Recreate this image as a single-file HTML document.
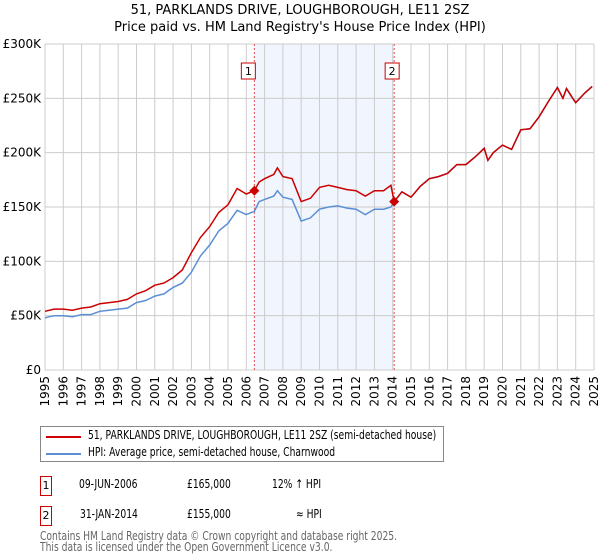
<!DOCTYPE html>
<html><head><meta charset="utf-8"><style>
body{margin:0;background:#fff;font-family:"DejaVu Sans","Liberation Sans",sans-serif;}
#wrap{position:relative;width:600px;height:560px;overflow:hidden}
.t{position:absolute;font-size:12px;color:#000;white-space:nowrap}
.c{transform:scaleX(0.765);transform-origin:0 0}
</style></head><body><div id="wrap">
<div class="t" style="left:0;width:600px;text-align:center;top:2px;font-size:13px;line-height:17px">51, PARKLANDS DRIVE, LOUGHBOROUGH, LE11 2SZ<br>Price paid vs. HM Land Registry's House Price Index (HPI)</div>
<svg id="chart" width="600" height="420" style="position:absolute;left:0;top:0"></svg>
<div style="position:absolute;left:40px;top:426px;width:402px;height:34px;border:1px solid #888">
 <div style="position:absolute;left:5px;top:9px;width:35px;height:2px;background:#cc0000"></div>
 <div class="t c" style="left:47px;top:1px">51, PARKLANDS DRIVE, LOUGHBOROUGH, LE11 2SZ (semi-detached house)</div>
 <div style="position:absolute;left:5px;top:26px;width:35px;height:2px;background:#5b8fd4"></div>
 <div class="t c" style="left:47px;top:18px">HPI: Average price, semi-detached house, Charnwood</div>
</div>
<div style="position:absolute;left:40px;top:476px;width:10px;height:18px;border:1px solid #cc0000;font-size:11px;text-align:center;line-height:18px">1</div>
<div class="t c" style="left:79px;top:477px">09-JUN-2006</div>
<div class="t c" style="left:187px;top:477px">£165,000</div>
<div class="t c" style="left:272px;top:477px">12% ↑ HPI</div>
<div style="position:absolute;left:40px;top:506px;width:10px;height:18px;border:1px solid #cc0000;font-size:11px;text-align:center;line-height:18px">2</div>
<div class="t c" style="left:80px;top:507px">31-JAN-2014</div>
<div class="t c" style="left:187px;top:507px">£155,000</div>
<div class="t c" style="left:296px;top:507px">≈ HPI</div>
<div class="t c" style="left:40px;top:531px;color:#666;line-height:11px">Contains HM Land Registry data © Crown copyright and database right 2025.<br>This data is licensed under the Open Government Licence v3.0.</div>
</div>
<script>
const years=[1995,1995.5,1996,1996.5,1997,1997.5,1998,1998.5,1999,1999.5,2000,2000.5,2001,2001.5,2002,2002.5,2003,2003.5,2004,2004.5,2005,2005.5,2006,2006.44,2006.7,2007,2007.5,2007.7,2008,2008.5,2009,2009.5,2010,2010.5,2011,2011.5,2012,2012.5,2013,2013.5,2013.9,2014.08,2014.5,2015,2015.5,2016,2016.5,2017,2017.5,2018,2018.5,2019,2019.2,2019.5,2020,2020.5,2021,2021.5,2022,2022.5,2023,2023.3,2023.5,2023.8,2024,2024.5,2024.9];
const hpi=[48,50,50,49,51,51,54,55,56,57,62,64,68,70,76,80,90,105,115,128,135,147,143,146,155,157,160,165,159,157,137,140,148,150,151,149,148,143,148,148,150,155,164,159,169,176,178,181,189,189,196,204,193,200,207,203,221,222,233,247,260,250,259,251,246,255,261];
const price=[54,56,56,55,57,58,61,62,63,65,70,73,78,80,85,92,108,122,132,145,152,167,162,165,173,176,180,186,178,176,155,158,168,170,168,166,165,160,165,165,170,155,164,159,169,176,178,181,189,189,196,204,193,200,207,203,221,222,233,247,260,250,259,251,246,255,261];
const yTicks=[0,50,100,150,200,250,300];
const xTicks=[1995,1996,1997,1998,1999,2000,2001,2002,2003,2004,2005,2006,2007,2008,2009,2010,2011,2012,2013,2014,2015,2016,2017,2018,2019,2020,2021,2022,2023,2024,2025];
const sales=[[2006.44,165,"1"],[2014.08,155,"2"]];
const L=45,R=594,T=44,B=370;
const X=y=>L+(y-1995)/30*(R-L), Y=v=>B-v/300*(B-T);
const svg=document.getElementById('chart'),NS='http://www.w3.org/2000/svg';
function mk(tag,a,p){const e=document.createElementNS(NS,tag);for(const k in a)e.setAttribute(k,a[k]);(p||svg).appendChild(e);return e;}
let sh=mk('rect',{x:X(sales[0][0]),y:T,width:X(sales[1][0])-X(sales[0][0]),height:B-T,fill:'#eef3fd',opacity:0.8});


xTicks.forEach(t=>{let g=mk('line',{x1:X(t),x2:X(t),y1:T,y2:B,stroke:'#ccc'});


let tx=mk('text',{x:0,y:0,'font-size':12,'text-anchor':'end','dominant-baseline':'central',transform:`translate(${X(t)},${B+6}) rotate(-90)`,'font-family':'DejaVu Sans,sans-serif'});tx.textContent=t;

});
yTicks.forEach(t=>{let g=mk('line',{x1:L,x2:R,y1:Y(t),y2:Y(t),stroke:'#ccc'});


let tx=mk('text',{x:L-4,y:Y(t)+4,'font-size':12,'text-anchor':'end','font-family':'DejaVu Sans,sans-serif'});tx.textContent=t?'£'+t+'K':'£0';

});
sales.forEach(s=>{let l=mk('line',{x1:X(s[0]),x2:X(s[0]),y1:T,y2:B,stroke:'#e05050','stroke-dasharray':'2,2'});


let r=mk('rect',{x:X(s[0])-9-(s[2]=='1'?4:0),y:63,width:14,height:16,fill:'#fff',stroke:'#cc0000'});


let tx=mk('text',{x:X(s[0])-2-(s[2]=='1'?4:0),y:75,'font-size':11,'text-anchor':'middle','font-family':'DejaVu Sans,sans-serif'});tx.textContent=s[2];

});
const pts=a=>a.map((v,i)=>X(years[i]).toFixed(1)+','+Y(v).toFixed(1)).join(' ');
let h=mk('polyline',{points:pts(hpi),fill:'none',stroke:'#5b8fd4','stroke-width':1.5});


let p=mk('polyline',{points:pts(price),fill:'none',stroke:'#cc0000','stroke-width':1.5});


sales.forEach(s=>{let d=mk('path',{d:`M${X(s[0])},${Y(s[1])-5}l5,5l-5,5l-5,-5z`,fill:'#cc0000'});

});
</script></body></html>
